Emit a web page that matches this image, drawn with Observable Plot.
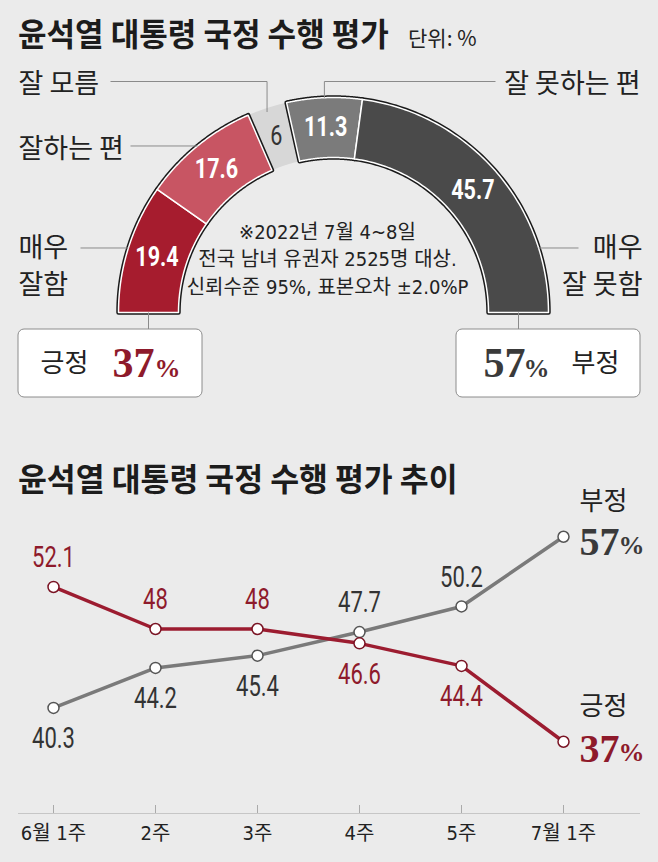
<!DOCTYPE html>
<html>
<head>
<meta charset="utf-8">
<script src="https://cdn.jsdelivr.net/npm/d3@7"></script>
<script src="https://cdn.jsdelivr.net/npm/@observablehq/plot@0.6"></script>
<style>
html,body{margin:0;padding:0;background:#ebebeb;}
#wrap{position:relative;width:658px;height:862px;overflow:hidden;background:#ebebeb;font-family:"Noto Sans CJK KR",sans-serif;}
.title{position:absolute;left:18px;font-weight:700;color:#1c1c1c;white-space:nowrap;line-height:1;transform-origin:left center;z-index:2;}
#t1{top:16px;font-size:32px;transform:scaleX(0.97);}
#t2{top:461px;font-size:32px;transform:scaleX(0.98);}
#unit{position:absolute;left:408px;top:27px;font-size:21px;line-height:1;color:#222;white-space:nowrap;z-index:2;}
#top{position:absolute;left:0;top:0;}
#bottom{position:absolute;left:0;top:440px;}
</style>
</head>
<body>
<div id="wrap">
  <div class="title" id="t1">윤석열 대통령 국정 수행 평가</div>
  <div id="unit">단위: %</div>
  <div id="top"></div>
  <div class="title" id="t2">윤석열 대통령 국정 수행 평가 추이</div>
  <div id="bottom"></div>
</div>
<script>
// ---------- data ----------
const segLabels = ["매우 잘함", "잘하는 편", "잘 모름", "잘 못하는 편", "매우 잘 못함"];
const segValues = [19.4, 17.6, 6, 11.3, 45.7];
const summaryLabels = ["긍정", "부정"];
const summaryValues = [37, 57];
const noteLines = ["※2022년 7월 4~8일", "전국 남녀 유권자 2525명 대상.", "신뢰수준 95%, 표본오차 ±2.0%P"];
const weeks = ["6월 1주", "2주", "3주", "4주", "5주", "7월 1주"];
const positive = [52.1, 48, 48, 46.6, 44.4, 37];
const negative = [40.3, 44.2, 45.4, 47.7, 50.2, 57];

// ---------- styles ----------
const segColors = ["#a61c2e", "#c85563", "#d7d7d7", "#7b7b7b", "#4a4a4a"];
const RED = "#9c1c30", RED_T = "#8e1a2b", GRAY = "#7a7a7a", GRAY_T = "#333333";
const NUM = "Roboto,'Noto Sans CJK KR',sans-serif";
const NOTE = "'Liberation Sans Narrow','DejaVu Sans Condensed','Noto Sans CJK KR',sans-serif";
const KR = "'Noto Sans CJK KR',sans-serif";
const SERIF = "'Liberation Serif','Times New Roman',serif";

// horizontally condense the texts of marks tagged with ariaDescription "condense:<factor>"
function condense(svg) {
  svg.querySelectorAll("g[aria-description]").forEach(g => {
    const m = /^condense:([\d.]+)$/.exec(g.getAttribute("aria-description"));
    if (!m) return;
    const s = +m[1];
    g.querySelectorAll("text").forEach(t => {
      const tr = t.getAttribute("transform") || "";
      const x = +(t.getAttribute("x") || 0);
      t.setAttribute("transform", `${tr} translate(${x},0) scale(${s},1) translate(${-x},0)`);
    });
  });
  return svg;
}

// ---------- top: half ring ----------
const W = 658, topH = 410, cxPage = 333, cyPage = 312;
const R = 215, r0 = 155, rMid = (R + r0) / 2;
const total = d3.sum(segValues);
const starts = d3.cumsum([0, ...segValues]);
const segs = segLabels.map((label, i) => {
  const a0 = Math.PI * (1 - starts[i] / total);
  const a1 = Math.PI * (1 - starts[i + 1] / total);
  return {label, value: segValues[i], a0, a1, mid: (a0 + a1) / 2};
});
const N = 90;
const ringRows = segs.flatMap(s => {
  const angles = d3.range(N + 1).map(k => s.a0 + (s.a1 - s.a0) * k / N);
  return [
    ...angles.map(a => ({label: s.label, x: R * Math.cos(a), y: R * Math.sin(a)})),
    ...angles.slice().reverse().map(a => ({label: s.label, x: r0 * Math.cos(a), y: r0 * Math.sin(a)}))
  ];
});
const isDK = d => d.label === "잘 모름";
const pt = (a, rad) => [rad * Math.cos(a), rad * Math.sin(a)];

// annotation layout (pixels relative to ring centre)
const L = {left: -315, right: 307, topY: 231, dkStart: -223, goodStart: -203, vgStart: -253,
           badEnd: 162, vbEnd: 245, lineH: 37, boxTop: -17, boxBot: -85,
           boxL: [-315, -131], boxR: [123, 307]};
const [dkx, dky] = pt(segs[2].mid, R);
const [gx, gy] = pt(segs[1].mid, R);
const [vgx, vgy] = pt(segs[0].mid, R);
const [bx, by] = pt(segs[3].mid, R);
const [vbx, vby] = pt(Math.PI - segs[0].mid, R);
const leaders = [
  {id: "dk", x: L.dkStart, y: L.topY}, {id: "dk", x: dkx, y: L.topY}, {id: "dk", x: dkx, y: dky - 4},
  {id: "g", x: L.goodStart, y: gy}, {id: "g", x: gx, y: gy},
  {id: "vg", x: L.vgStart, y: vgy}, {id: "vg", x: vgx, y: vgy},
  {id: "b", x: bx, y: by}, {id: "b", x: bx, y: L.topY}, {id: "b", x: L.badEnd, y: L.topY},
  {id: "vb", x: vbx, y: vby}, {id: "vb", x: L.vbEnd, y: vby},
  {id: "pos", x: -rMid, y: 0}, {id: "pos", x: -rMid, y: L.boxTop},
  {id: "neg", x: rMid, y: 0}, {id: "neg", x: rMid, y: L.boxTop}
];
const boxes = [
  {x1: L.boxL[0], x2: L.boxL[1], y1: L.boxTop, y2: L.boxBot},
  {x1: L.boxR[0], x2: L.boxR[1], y1: L.boxTop, y2: L.boxBot}
];
const boxY = (L.boxTop + L.boxBot) / 2;
const krLabel = (txt, x, y, anchor, dy) => Plot.text([txt], {x, y, text: d => d, textAnchor: anchor, dy, fontSize: 27, fontFamily: KR, fill: "#222"});

const topPlot = Plot.plot({
  width: W, height: topH, margin: 0,
  x: {domain: [-cxPage, W - cxPage], axis: null},
  y: {domain: [cyPage - topH, cyPage], axis: null},
  color: {domain: segLabels, range: segColors},
  style: {background: "transparent", overflow: "visible"},
  marks: [
    Plot.line(ringRows.filter(isDK), {x: "x", y: "y", z: "label", fill: "label", stroke: "none", curve: "linear-closed"}),
    Plot.line(ringRows.filter(d => !isDK(d)), {x: "x", y: "y", z: "label", stroke: "#1a1a1a", strokeWidth: 4.5, curve: "linear-closed"}),
    Plot.line(ringRows.filter(d => !isDK(d)), {x: "x", y: "y", z: "label", fill: "label", stroke: "white", strokeWidth: 1.5, curve: "linear-closed"}),
    Plot.line(leaders, {x: "x", y: "y", z: "id", stroke: "#8a8a8a", strokeWidth: 1, strokeLinecap: "butt"}),
    Plot.text(segs.filter(d => !isDK(d)), {x: d => rMid * Math.cos(d.mid), y: d => rMid * Math.sin(d.mid), text: d => String(d.value),
      fill: "white", fontSize: 27, fontWeight: "bold", fontFamily: NUM, ariaDescription: "condense:0.8"}),
    Plot.text(segs.filter(isDK), {x: d => rMid * Math.cos(d.mid), y: d => rMid * Math.sin(d.mid), text: d => String(d.value),
      fill: "#333", fontSize: 27, fontFamily: NUM, ariaDescription: "condense:0.8"}),
    // category labels
    krLabel(segLabels[2], L.left, L.topY, "start", 3),
    krLabel(segLabels[1], L.left, gy, "start", 3),
    krLabel(segLabels[0].split(" ")[0], L.left, vgy, "start", 0),
    krLabel(segLabels[0].split(" ").slice(1).join(" "), L.left, vgy, "start", L.lineH),
    krLabel(segLabels[3], L.right, L.topY, "end", 3),
    krLabel(segLabels[4].split(" ")[0], L.right + 2, vby, "end", 0),
    krLabel(segLabels[4].split(" ").slice(1).join(" "), L.right + 2, vby, "end", L.lineH),
    // note
    Plot.text(noteLines, {x: -6, y: (d, i) => 80 - i * 27.5, text: d => d, fontSize: 20, fontFamily: NOTE, fill: "#222"}),
    // summary boxes
    Plot.rect(boxes, {x1: "x1", x2: "x2", y1: "y1", y2: "y2", fill: "white", stroke: "#8c8c8c", strokeWidth: 1, rx: 6}),
    Plot.text([summaryLabels[0]], {x: L.boxL[0] + 22, y: boxY, text: d => d, textAnchor: "start", fontSize: 26, fontFamily: KR, fill: "#222"}),
    Plot.text([summaryValues[0]], {x: L.boxL[0] + 94, y: boxY, text: d => String(d), textAnchor: "start", fontSize: 42, fontWeight: "bold", fontFamily: SERIF, fill: RED_T}),
    Plot.text(["%"], {x: L.boxL[0] + 136, y: boxY, dy: 5, text: d => d, textAnchor: "start", fontSize: 26, fontWeight: "bold", fontFamily: SERIF, fill: RED_T}),
    Plot.text([summaryValues[1]], {x: L.boxR[0] + 27, y: boxY, text: d => String(d), textAnchor: "start", fontSize: 42, fontWeight: "bold", fontFamily: SERIF, fill: "#3a3a3a"}),
    Plot.text(["%"], {x: L.boxR[0] + 67, y: boxY, dy: 5, text: d => d, textAnchor: "start", fontSize: 26, fontWeight: "bold", fontFamily: SERIF, fill: "#3a3a3a"}),
    Plot.text([summaryLabels[1]], {x: L.boxR[0] + 115, y: boxY, text: d => d, textAnchor: "start", fontSize: 26, fontFamily: KR, fill: "#222"})
  ]
});
document.getElementById("top").appendChild(condense(topPlot));

// ---------- bottom: line chart ----------
const posRows = weeks.map((w, i) => ({week: w, value: positive[i], above: positive[i] > negative[i], last: i === weeks.length - 1}));
const negRows = weeks.map((w, i) => ({week: w, value: negative[i], above: negative[i] > positive[i], last: i === weeks.length - 1}));
const yMin = 30, yMax = 60, bH = 422, mTop = 65.5, mBot = 49;
const pxPerUnit = (bH - mTop - mBot) / (yMax - yMin);
const lastPos = posRows.filter(d => d.last), lastNeg = negRows.filter(d => d.last);

const numText = (rows, dy, fill) => Plot.text(rows, {x: "week", y: "value", text: d => String(d.value), dy, fill, fontSize: 29, fontFamily: NUM, ariaDescription: "condense:0.76"});

const bottomPlot = Plot.plot({
  width: W, height: bH, marginTop: mTop, marginBottom: mBot, marginLeft: 52, marginRight: 95,
  x: {type: "point", domain: weeks, padding: 0, axis: null},
  y: {domain: [yMin, yMax], axis: null},
  style: {background: "transparent", overflow: "visible"},
  marks: [
    Plot.ruleY([yMin], {stroke: "#c6c6c6", strokeWidth: 1.2, insetLeft: -34, insetRight: -77}),
    Plot.ruleX(weeks, {x: d => d, y1: yMin, y2: yMin + 8 / pxPerUnit, stroke: "#aaaaaa", strokeWidth: 1}),
    Plot.text(weeks, {x: d => d, y: yMin, dy: 20, text: d => d, fontSize: 20, fontFamily: NOTE, fill: "#222"}),
    Plot.line(negRows, {x: "week", y: "value", stroke: GRAY, strokeWidth: 3.5}),
    Plot.line(posRows, {x: "week", y: "value", stroke: RED, strokeWidth: 3.5}),
    Plot.dot(negRows, {x: "week", y: "value", r: 5.5, fill: "white", stroke: "#555", strokeWidth: 1.5}),
    Plot.dot(posRows, {x: "week", y: "value", r: 5.5, fill: "white", stroke: "#7a1424", strokeWidth: 1.5}),
    numText(posRows.filter(d => !d.last && d.above), -29, RED_T),
    numText(posRows.filter(d => !d.last && !d.above), 31, RED_T),
    numText(negRows.filter(d => !d.last && d.above), -29, GRAY_T),
    numText(negRows.filter(d => !d.last && !d.above), 31, GRAY_T),
    Plot.text(lastNeg, {x: "week", y: "value", text: () => summaryLabels[1], dx: 16, dy: -35, textAnchor: "start", fontSize: 26, fontFamily: KR, fill: "#222"}),
    Plot.text(lastNeg, {x: "week", y: "value", text: d => String(d.value), dx: 16, dy: 5, textAnchor: "start", fontSize: 40, fontWeight: "bold", fontFamily: SERIF, fill: "#3a3a3a"}),
    Plot.text(lastNeg, {x: "week", y: "value", text: () => "%", dx: 55, dy: 9, textAnchor: "start", fontSize: 26, fontWeight: "bold", fontFamily: SERIF, fill: "#3a3a3a"}),
    Plot.text(lastPos, {x: "week", y: "value", text: () => summaryLabels[0], dx: 16, dy: -35, textAnchor: "start", fontSize: 26, fontFamily: KR, fill: "#222"}),
    Plot.text(lastPos, {x: "week", y: "value", text: d => String(d.value), dx: 16, dy: 7, textAnchor: "start", fontSize: 40, fontWeight: "bold", fontFamily: SERIF, fill: RED_T}),
    Plot.text(lastPos, {x: "week", y: "value", text: () => "%", dx: 55, dy: 11, textAnchor: "start", fontSize: 26, fontWeight: "bold", fontFamily: SERIF, fill: RED_T})
  ]
});
document.getElementById("bottom").appendChild(condense(bottomPlot));
</script>
</body>
</html>
